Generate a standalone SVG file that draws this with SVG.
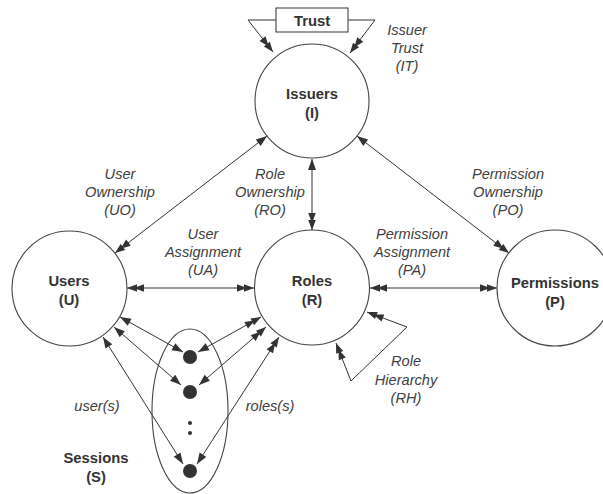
<svg xmlns="http://www.w3.org/2000/svg" width="603" height="494" viewBox="0 0 603 494">
<style>
.node{fill:#fff;stroke:#444;stroke-width:1.1}
.nl{font-family:"Liberation Sans",Arial,Helvetica,sans-serif;font-weight:bold;font-size:14.8px;fill:#333;text-anchor:middle}
.el{font-family:"Liberation Sans",Arial,Helvetica,sans-serif;font-style:italic;font-size:14.6px;fill:#404040;text-anchor:middle}
.c{fill:none;stroke:#333;stroke-width:1}
.dot{fill:#333}
</style>
<defs>
<marker id="dbl" markerUnits="userSpaceOnUse" viewBox="-18 -5 20 10" refX="0" refY="0" markerWidth="20" markerHeight="10" orient="auto-start-reverse">
<path d="M0,0 L-10,-3.8 L-10,3.8 Z M-7,0 L-17,-3.8 L-17,3.8 Z" fill="#333"/>
</marker>
<marker id="sgl" markerUnits="userSpaceOnUse" viewBox="-13 -5 14 10" refX="0" refY="0" markerWidth="14" markerHeight="10" orient="auto-start-reverse">
<path d="M0,0 L-11,-4 L-11,4 Z" fill="#333"/>
</marker>
</defs>

<g id="connectors">
<path class="c" d="M276,20 L248,20 L273,52" marker-end="url(#dbl)"/>
<path class="c" d="M348,20 L375,20 L350,53" marker-end="url(#dbl)"/>
<line class="c" x1="267" y1="136" x2="115" y2="253" marker-start="url(#sgl)" marker-end="url(#dbl)"/>
<line class="c" x1="312" y1="159" x2="312" y2="230" marker-start="url(#sgl)" marker-end="url(#dbl)"/>
<line class="c" x1="357" y1="136" x2="509" y2="253" marker-start="url(#sgl)" marker-end="url(#dbl)"/>
<line class="c" x1="127" y1="288" x2="254" y2="288" marker-start="url(#dbl)" marker-end="url(#dbl)"/>
<line class="c" x1="370" y1="288" x2="497" y2="288" marker-start="url(#dbl)" marker-end="url(#dbl)"/>
<path class="c" d="M367,312 L407,327 L351,381 L336,343" marker-start="url(#dbl)" marker-end="url(#dbl)"/>
<line class="c" x1="120" y1="317" x2="183" y2="352" marker-start="url(#sgl)" marker-end="url(#sgl)"/>
<line class="c" x1="114" y1="327" x2="181" y2="385" marker-start="url(#sgl)" marker-end="url(#sgl)"/>
<line class="c" x1="103" y1="337" x2="183" y2="464" marker-start="url(#sgl)" marker-end="url(#sgl)"/>
<line class="c" x1="261" y1="317" x2="198" y2="352" marker-start="url(#dbl)" marker-end="url(#sgl)"/>
<line class="c" x1="266" y1="327" x2="199" y2="385" marker-start="url(#dbl)" marker-end="url(#sgl)"/>
<line class="c" x1="279" y1="337" x2="197" y2="464" marker-start="url(#dbl)" marker-end="url(#sgl)"/>
<text class="el" x="407" y="35">Issuer</text>
<text class="el" x="407" y="53">Trust</text>
<text class="el" x="407" y="71">(IT)</text>
<text class="el" x="120" y="179">User</text>
<text class="el" x="120" y="197">Ownership</text>
<text class="el" x="120" y="215">(UO)</text>
<text class="el" x="270" y="179">Role</text>
<text class="el" x="270" y="197">Ownership</text>
<text class="el" x="270" y="215">(RO)</text>
<text class="el" x="508" y="179">Permission</text>
<text class="el" x="508" y="197">Ownership</text>
<text class="el" x="508" y="215">(PO)</text>
<text class="el" x="203" y="239">User</text>
<text class="el" x="203" y="257">Assignment</text>
<text class="el" x="203" y="275">(UA)</text>
<text class="el" x="412" y="239">Permission</text>
<text class="el" x="412" y="257">Assignment</text>
<text class="el" x="412" y="275">(PA)</text>
<text class="el" x="406" y="366">Role</text>
<text class="el" x="406" y="385">Hierarchy</text>
<text class="el" x="406" y="403">(RH)</text>
<text class="el" x="97" y="411">user(s)</text>
<text class="el" x="270" y="411">roles(s)</text>
</g>

<g id="trust">
<rect x="276" y="8" width="72" height="24" fill="#fff" stroke="#444" stroke-width="1.1"/>
<text class="nl" x="312" y="26">Trust</text>
</g>

<g id="issuers">
<circle class="node" cx="312" cy="101" r="57"/>
<text class="nl" x="312" y="99">Issuers</text>
<text class="nl" x="312" y="118">(I)</text>
</g>

<g id="users">
<circle class="node" cx="69.5" cy="288.5" r="57.5"/>
<text class="nl" x="69" y="286">Users</text>
<text class="nl" x="69" y="305">(U)</text>
</g>

<g id="roles">
<circle class="node" cx="312" cy="287.5" r="57.5"/>
<text class="nl" x="312" y="286">Roles</text>
<text class="nl" x="312" y="305">(R)</text>
</g>

<g id="permissions">
<circle class="node" cx="555" cy="288" r="58"/>
<text class="nl" x="555" y="288">Permissions</text>
<text class="nl" x="555" y="307">(P)</text>
</g>

<g id="sessions">
<ellipse cx="190" cy="411" rx="38" ry="82" fill="none" stroke="#444" stroke-width="1.1"/>
<circle class="dot" cx="190" cy="357" r="7"/>
<circle class="dot" cx="190" cy="392" r="7"/>
<circle class="dot" cx="190" cy="423" r="2"/>
<circle class="dot" cx="190" cy="433" r="2"/>
<circle class="dot" cx="190" cy="471" r="7"/>
<text class="nl" x="96" y="463">Sessions</text>
<text class="nl" x="96" y="482">(S)</text>
</g>
</svg>
